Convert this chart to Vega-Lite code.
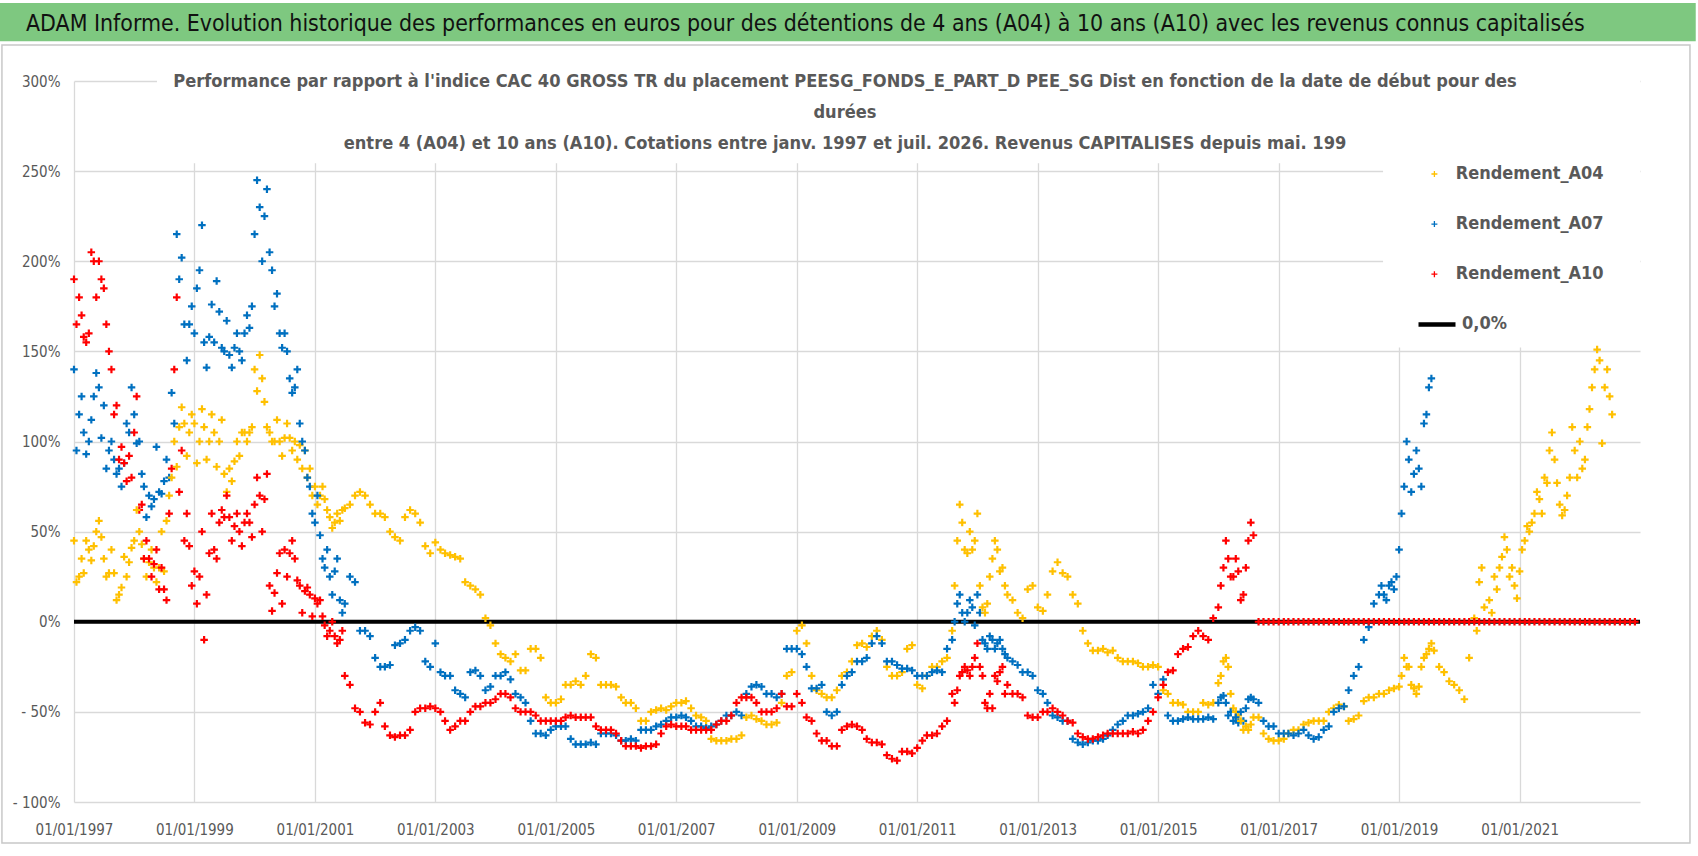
{
"$schema":"https://vega.github.io/schema/vega-lite/v6.json",
"width":1566,"height":721,
"autosize":{"type":"none"},
"padding":{"left":74,"top":81,"right":58,"bottom":54},
"background":"white",
"config":{"view":{"stroke":null},"font":"DejaVu Sans Condensed, Roboto, sans-serif"},
"title":{"text":["Performance par rapport à l'indice CAC 40 GROSS TR  du placement PEESG_FONDS_E_PART_D PEE_SG Dist en fonction de la date de début pour des","durées","entre 4 (A04) et 10 ans (A10).  Cotations entre janv. 1997 et juil. 2026. Revenus  CAPITALISES  depuis mai. 199"],"anchor":"middle","frame":"group","orient":"top","offset":-150,"dx":-12,"font":"DejaVu Sans Condensed, Roboto, sans-serif","fontSize":18.1,"fontWeight":"bold","color":"#595959","lineHeight":31},
"data":{"values":[
{"d":"1997-01","a":45,"b":140,"c":190},{"d":"1997-02","a":25,"b":115,"c":180},{"d":"1997-03","a":27,"b":105,"c":158},{"d":"1997-04","a":40,"b":100,"c":160},{"d":"1997-05","a":42,"b":125,"c":200},{"d":"1997-06","a":56,"b":130,"c":200},{"d":"1997-07","a":35,"b":120,"c":185},{"d":"1997-08","a":27,"b":95,"c":150},{"d":"1997-09","a":27,"b":90,"c":115},{"d":"1997-10","a":15,"b":85,"c":90},{"d":"1997-11","a":36,"b":88,"c":88},{"d":"1997-12","a":33,"b":105,"c":92},
{"d":"1998-01","a":45,"b":115,"c":105},{"d":"1998-02","a":50,"b":100,"c":62},{"d":"1998-03","a":35,"b":75,"c":35},{"d":"1998-04","a":33,"b":70,"c":35},{"d":"1998-05","a":30,"b":68,"c":32},{"d":"1998-06","a":30,"b":72,"c":18},{"d":"1998-07","a":28,"b":78,"c":18},{"d":"1998-08","a":70,"b":80,"c":60},{"d":"1998-09","a":100,"b":110,"c":140},{"d":"1998-10","a":108,"b":190,"c":72},{"d":"1998-11","a":110,"b":165,"c":45},{"d":"1998-12","a":105,"b":165,"c":42},
{"d":"1999-01","a":110,"b":160,"c":28},{"d":"1999-02","a":100,"b":195,"c":25},{"d":"1999-03","a":108,"b":155,"c":-10},{"d":"1999-04","a":100,"b":158,"c":38},{"d":"1999-05","a":105,"b":155,"c":40},{"d":"1999-06","a":100,"b":172,"c":55},{"d":"1999-07","a":82,"b":150,"c":58},{"d":"1999-08","a":85,"b":148,"c":58},{"d":"1999-09","a":89,"b":152,"c":53},{"d":"1999-10","a":92,"b":150,"c":50},{"d":"1999-11","a":105,"b":160,"c":55},{"d":"1999-12","a":105,"b":163,"c":55},
{"d":"2000-01","a":140,"b":215,"c":65},{"d":"2000-02","a":148,"b":230,"c":70},{"d":"2000-03","a":122,"b":225,"c":68},{"d":"2000-04","a":105,"b":205,"c":20},{"d":"2000-05","a":100,"b":175,"c":16},{"d":"2000-06","a":100,"b":160,"c":38},{"d":"2000-07","a":102,"b":160,"c":40},{"d":"2000-08","a":102,"b":135,"c":38},{"d":"2000-09","a":100,"b":130,"c":35},{"d":"2000-10","a":98,"b":110,"c":20},{"d":"2000-11","a":95,"b":95,"c":17},{"d":"2000-12","a":85,"b":75,"c":15},
{"d":"2001-01","a":75,"b":55,"c":13},{"d":"2001-02","a":70,"b":48,"c":12},{"d":"2001-03","a":68,"b":30,"c":-2},{"d":"2001-04","a":58,"b":25,"c":-5},{"d":"2001-05","a":55,"b":28,"c":-8},{"d":"2001-06","a":56,"b":12,"c":-10},{"d":"2001-07","a":63,"b":10,"c":-30},{"d":"2001-08","a":65,"b":25,"c":-35},{"d":"2001-09","a":70,"b":22,"c":-48},{"d":"2001-10","a":72,"b":-5,"c":-50},{"d":"2001-11","a":70,"b":-5,"c":-56},{"d":"2001-12","a":65,"b":-8,"c":-57},
{"d":"2002-01","a":60,"b":-20,"c":-50},{"d":"2002-02","a":60,"b":-25,"c":-45},{"d":"2002-03","a":58,"b":-25,"c":-58},{"d":"2002-04","a":50,"b":-24,"c":-63},{"d":"2002-05","a":47,"b":-13,"c":-64},{"d":"2002-06","a":45,"b":-12,"c":-63},{"d":"2002-07","a":58,"b":-10,"c":-63},{"d":"2002-08","a":62,"b":-5,"c":-60},{"d":"2002-09","a":60,"b":-3,"c":-50},{"d":"2002-10","a":55,"b":-5,"c":-48},{"d":"2002-11","a":42,"b":-22,"c":-48},{"d":"2002-12","a":38,"b":-25,"c":-47},
{"d":"2003-01","a":44,"b":-12,"c":-48},{"d":"2003-02","a":40,"b":-28,"c":-50},{"d":"2003-03","a":38,"b":-30,"c":-55},{"d":"2003-04","a":37,"b":-30,"c":-60},{"d":"2003-05","a":36,"b":-38,"c":-58},{"d":"2003-06","a":35,"b":-40,"c":-55},{"d":"2003-07","a":22,"b":-42,"c":-55},{"d":"2003-08","a":20,"b":-28,"c":-50},{"d":"2003-09","a":18,"b":-27,"c":-47},{"d":"2003-10","a":15,"b":-30,"c":-47},{"d":"2003-11","a":2,"b":-38,"c":-45},{"d":"2003-12","a":-2,"b":-36,"c":-45},
{"d":"2004-01","a":-12,"b":-30,"c":-43},{"d":"2004-02","a":-18,"b":-30,"c":-40},{"d":"2004-03","a":-20,"b":-28,"c":-40},{"d":"2004-04","a":-22,"b":-32,"c":-42},{"d":"2004-05","a":-18,"b":-40,"c":-48},{"d":"2004-06","a":-27,"b":-42,"c":-50},{"d":"2004-07","a":-27,"b":-45,"c":-50},{"d":"2004-08","a":-15,"b":-55,"c":-50},{"d":"2004-09","a":-15,"b":-62,"c":-52},{"d":"2004-10","a":-20,"b":-62,"c":-55},{"d":"2004-11","a":-42,"b":-63,"c":-55},{"d":"2004-12","a":-45,"b":-60,"c":-55},
{"d":"2005-01","a":-45,"b":-58,"c":-55},{"d":"2005-02","a":-43,"b":-58,"c":-55},{"d":"2005-03","a":-35,"b":-58,"c":-53},{"d":"2005-04","a":-35,"b":-65,"c":-52},{"d":"2005-05","a":-33,"b":-68,"c":-53},{"d":"2005-06","a":-35,"b":-68,"c":-53},{"d":"2005-07","a":-30,"b":-68,"c":-53},{"d":"2005-08","a":-18,"b":-67,"c":-53},{"d":"2005-09","a":-20,"b":-68,"c":-58},{"d":"2005-10","a":-35,"b":-62,"c":-60},{"d":"2005-11","a":-35,"b":-62,"c":-60},{"d":"2005-12","a":-35,"b":-62,"c":-60},
{"d":"2006-01","a":-36,"b":-63,"c":-62},{"d":"2006-02","a":-42,"b":-66,"c":-66},{"d":"2006-03","a":-45,"b":-66,"c":-69},{"d":"2006-04","a":-45,"b":-65,"c":-69},{"d":"2006-05","a":-48,"b":-66,"c":-69},{"d":"2006-06","a":-55,"b":-60,"c":-70},{"d":"2006-07","a":-55,"b":-60,"c":-69},{"d":"2006-08","a":-50,"b":-60,"c":-69},{"d":"2006-09","a":-49,"b":-58,"c":-68},{"d":"2006-10","a":-48,"b":-57,"c":-62},{"d":"2006-11","a":-49,"b":-55,"c":-58},{"d":"2006-12","a":-47,"b":-53,"c":-57},
{"d":"2007-01","a":-45,"b":-53,"c":-58},{"d":"2007-02","a":-45,"b":-52,"c":-58},{"d":"2007-03","a":-44,"b":-53,"c":-58},{"d":"2007-04","a":-48,"b":-55,"c":-60},{"d":"2007-05","a":-52,"b":-58,"c":-60},{"d":"2007-06","a":-53,"b":-58,"c":-60},{"d":"2007-07","a":-55,"b":-59,"c":-60},{"d":"2007-08","a":-65,"b":-58,"c":-60},{"d":"2007-09","a":-66,"b":-57,"c":-57},{"d":"2007-10","a":-66,"b":-55,"c":-55},{"d":"2007-11","a":-66,"b":-52,"c":-55},{"d":"2007-12","a":-65,"b":-52,"c":-52},
{"d":"2008-01","a":-65,"b":-50,"c":-45},{"d":"2008-02","a":-63,"b":-52,"c":-42},{"d":"2008-03","a":-53,"b":-40,"c":-42},{"d":"2008-04","a":-52,"b":-36,"c":-42},{"d":"2008-05","a":-54,"b":-35,"c":-45},{"d":"2008-06","a":-55,"b":-36,"c":-50},{"d":"2008-07","a":-57,"b":-40,"c":-50},{"d":"2008-08","a":-57,"b":-40,"c":-50},{"d":"2008-09","a":-56,"b":-42,"c":-48},{"d":"2008-10","a":-45,"b":-40,"c":-40},{"d":"2008-11","a":-30,"b":-15,"c":-47},{"d":"2008-12","a":-28,"b":-15,"c":-47},
{"d":"2009-01","a":-5,"b":-15,"c":-40},{"d":"2009-02","a":-2,"b":-18,"c":-45},{"d":"2009-03","a":-12,"b":-25,"c":-53},{"d":"2009-04","a":-30,"b":-37,"c":-55},{"d":"2009-05","a":-38,"b":-37,"c":-62},{"d":"2009-06","a":-40,"b":-35,"c":-66},{"d":"2009-07","a":-42,"b":-50,"c":-66},{"d":"2009-08","a":-42,"b":-52,"c":-69},{"d":"2009-09","a":-38,"b":-50,"c":-69},{"d":"2009-10","a":-30,"b":-35,"c":-60},{"d":"2009-11","a":-28,"b":-30,"c":-58},{"d":"2009-12","a":-22,"b":-28,"c":-57},
{"d":"2010-01","a":-13,"b":-22,"c":-58},{"d":"2010-02","a":-12,"b":-22,"c":-60},{"d":"2010-03","a":-14,"b":-20,"c":-65},{"d":"2010-04","a":-8,"b":-12,"c":-67},{"d":"2010-05","a":-5,"b":-8,"c":-67},{"d":"2010-06","a":-10,"b":-12,"c":-68},{"d":"2010-07","a":-25,"b":-22,"c":-74},{"d":"2010-08","a":-30,"b":-22,"c":-76},{"d":"2010-09","a":-30,"b":-24,"c":-77},{"d":"2010-10","a":-28,"b":-26,"c":-72},{"d":"2010-11","a":-15,"b":-26,"c":-72},{"d":"2010-12","a":-13,"b":-27,"c":-73},
{"d":"2011-01","a":-35,"b":-30,"c":-70},{"d":"2011-02","a":-37,"b":-30,"c":-66},{"d":"2011-03","a":-30,"b":-30,"c":-63},{"d":"2011-04","a":-25,"b":-28,"c":-63},{"d":"2011-05","a":-25,"b":-27,"c":-62},{"d":"2011-06","a":-22,"b":-28,"c":-58},{"d":"2011-07","a":-20,"b":-15,"c":-55},{"d":"2011-08","a":-5,"b":-10,"c":-40},{"d":"2011-09","a":45,"b":10,"c":-38},{"d":"2011-10","a":55,"b":5,"c":-28},{"d":"2011-11","a":38,"b":5,"c":-27},{"d":"2011-12","a":40,"b":8,"c":-25},
{"d":"2012-01","a":60,"b":15,"c":-12},{"d":"2012-02","a":8,"b":-10,"c":-30},{"d":"2012-03","a":10,"b":-15,"c":-48},{"d":"2012-04","a":35,"b":-10,"c":-48},{"d":"2012-05","a":40,"b":-12,"c":-33},{"d":"2012-06","a":30,"b":-15,"c":-25},{"d":"2012-07","a":15,"b":-20,"c":-35},{"d":"2012-08","a":12,"b":-22,"c":-40},{"d":"2012-09","a":5,"b":-24,"c":-40},{"d":"2012-10","a":2,"b":-28,"c":-42},{"d":"2012-11","a":18,"b":-28,"c":-52},{"d":"2012-12","a":20,"b":-30,"c":-53},
{"d":"2013-01","a":8,"b":-38,"c":-53},{"d":"2013-02","a":6,"b":-40,"c":-50},{"d":"2013-03","a":15,"b":-45,"c":-50},{"d":"2013-04","a":28,"b":-52,"c":-48},{"d":"2013-05","a":33,"b":-53,"c":-50},{"d":"2013-06","a":27,"b":-55,"c":-52},{"d":"2013-07","a":25,"b":-55,"c":-55},{"d":"2013-08","a":15,"b":-65,"c":-56},{"d":"2013-09","a":10,"b":-67,"c":-62},{"d":"2013-10","a":-5,"b":-68,"c":-64},{"d":"2013-11","a":-12,"b":-67,"c":-65},{"d":"2013-12","a":-16,"b":-66,"c":-65},
{"d":"2014-01","a":-16,"b":-66,"c":-64},{"d":"2014-02","a":-15,"b":-65,"c":-63},{"d":"2014-03","a":-17,"b":-63,"c":-62},{"d":"2014-04","a":-16,"b":-60,"c":-62},{"d":"2014-05","a":-20,"b":-57,"c":-62},{"d":"2014-06","a":-22,"b":-55,"c":-62},{"d":"2014-07","a":-22,"b":-52,"c":-62},{"d":"2014-08","a":-22,"b":-52,"c":-61},{"d":"2014-09","a":-23,"b":-51,"c":-62},{"d":"2014-10","a":-25,"b":-50,"c":-60},{"d":"2014-11","a":-25,"b":-48,"c":-55},{"d":"2014-12","a":-24,"b":-35,"c":-50},
{"d":"2015-01","a":-25,"b":-40,"c":-42},{"d":"2015-02","a":-38,"b":-32,"c":-35},{"d":"2015-03","a":-40,"b":-52,"c":-28},{"d":"2015-04","a":-45,"b":-55,"c":-27},{"d":"2015-05","a":-45,"b":-55,"c":-18},{"d":"2015-06","a":-46,"b":-54,"c":-15},{"d":"2015-07","a":-50,"b":-53,"c":-14},{"d":"2015-08","a":-50,"b":-54,"c":-8},{"d":"2015-09","a":-50,"b":-54,"c":-5},{"d":"2015-10","a":-45,"b":-54,"c":-8},{"d":"2015-11","a":-46,"b":-53,"c":-10},{"d":"2015-12","a":-45,"b":-54,"c":2},
{"d":"2016-01","a":-34,"b":-45,"c":8},{"d":"2016-02","a":-22,"b":-41,"c":30},{"d":"2016-03","a":-25,"b":-52,"c":35},{"d":"2016-04","a":-48,"b":-55,"c":25},{"d":"2016-05","a":-52,"b":-56,"c":28},{"d":"2016-06","a":-60,"b":-55,"c":15},{"d":"2016-07","a":-60,"b":-43,"c":45},{"d":"2016-08","a":-53,"b":-43,"c":48},{"d":"2016-09","a":-53,"b":-45,"c":0},{"d":"2016-10","a":-62,"b":-55,"c":0},{"d":"2016-11","a":-65,"b":-58,"c":0},{"d":"2016-12","a":-66,"b":-58,"c":0},
{"d":"2017-01","a":-66,"b":-62,"c":0},{"d":"2017-02","a":-65,"b":-62,"c":0},{"d":"2017-03","a":-62,"b":-62,"c":0},{"d":"2017-04","a":-60,"b":-63,"c":0},{"d":"2017-05","a":-60,"b":-62,"c":0},{"d":"2017-06","a":-57,"b":-60,"c":0},{"d":"2017-07","a":-56,"b":-63,"c":0},{"d":"2017-08","a":-55,"b":-65,"c":0},{"d":"2017-09","a":-55,"b":-64,"c":0},{"d":"2017-10","a":-55,"b":-60,"c":0},{"d":"2017-11","a":-50,"b":-58,"c":0},{"d":"2017-12","a":-48,"b":-50,"c":0},
{"d":"2018-01","a":-46,"b":-48,"c":0},{"d":"2018-02","a":-47,"b":-47,"c":0},{"d":"2018-03","a":-55,"b":-38,"c":0},{"d":"2018-04","a":-54,"b":-30,"c":0},{"d":"2018-05","a":-52,"b":-25,"c":0},{"d":"2018-06","a":-44,"b":-10,"c":0},{"d":"2018-07","a":-42,"b":-3,"c":0},{"d":"2018-08","a":-42,"b":10,"c":0},{"d":"2018-09","a":-40,"b":15,"c":0},{"d":"2018-10","a":-40,"b":15,"c":0},{"d":"2018-11","a":-38,"b":20,"c":0},{"d":"2018-12","a":-37,"b":18,"c":0},
{"d":"2019-01","a":-36,"b":40,"c":0},{"d":"2019-02","a":-20,"b":75,"c":0},{"d":"2019-03","a":-25,"b":90,"c":0},{"d":"2019-04","a":-37,"b":82,"c":0},{"d":"2019-05","a":-36,"b":85,"c":0},{"d":"2019-06","a":-20,"b":110,"c":0},{"d":"2019-07","a":-15,"b":130,"c":0},{"d":"2019-08","a":-16,"c":0},{"d":"2019-09","a":-25,"c":0},{"d":"2019-10","a":-28,"c":0},{"d":"2019-11","a":-33,"c":0},{"d":"2019-12","a":-35,"c":0},
{"d":"2020-01","a":-38,"c":0},{"d":"2020-02","a":-43,"c":0},{"d":"2020-03","a":-20,"c":0},{"d":"2020-04","a":2,"c":0},{"d":"2020-05","a":22,"c":0},{"d":"2020-06","a":8,"c":0},{"d":"2020-07","a":12,"c":0},{"d":"2020-08","a":25,"c":0},{"d":"2020-09","a":30,"c":0},{"d":"2020-10","a":47,"c":0},{"d":"2020-11","a":25,"c":0},{"d":"2020-12","a":20,"c":0},
{"d":"2021-01","a":28,"c":0},{"d":"2021-02","a":45,"c":0},{"d":"2021-03","a":50,"c":0},{"d":"2021-04","a":60,"c":0},{"d":"2021-05","a":68,"c":0},{"d":"2021-06","a":80,"c":0},{"d":"2021-07","a":95,"c":0},{"d":"2021-08","a":90,"c":0},{"d":"2021-09","a":65,"c":0},{"d":"2021-10","a":62,"c":0},{"d":"2021-11","a":80,"c":0},{"d":"2021-12","a":95,"c":0},
{"d":"2022-01","a":100,"c":0},{"d":"2022-02","a":90,"c":0},{"d":"2022-03","a":118,"c":0},{"d":"2022-04","a":140,"c":0},{"d":"2022-05","a":145,"c":0},{"d":"2022-06","a":130,"c":0},{"d":"2022-07","a":125,"c":0},{"d":"2022-08","c":0},{"d":"2022-09","c":0},{"d":"2022-10","c":0},{"d":"2022-11","c":0},{"d":"2022-12","c":0},
{"d":"1997-01-16","a":22,"b":95,"c":165},{"d":"1997-02-16","a":35,"b":125,"c":170},{"d":"1997-03-16","a":45,"b":93,"c":155},{"d":"1997-04-16","a":34,"b":112,"c":205},{"d":"1997-05-16","a":50,"b":138,"c":180},{"d":"1997-06-16","a":47,"b":102,"c":190},{"d":"1997-07-16","a":25,"b":85,"c":165},{"d":"1997-08-16","a":40,"b":100,"c":140},{"d":"1997-09-16","a":12,"b":82,"c":120},{"d":"1997-10-16","a":19,"b":75,"c":97},{"d":"1997-11-16","a":25,"b":110,"c":78},{"d":"1997-12-16","a":41,"b":130,"c":80},
{"d":"1998-01-16","a":62,"b":99,"c":125},{"d":"1998-02-16","a":43,"b":82,"c":65},{"d":"1998-03-16","a":25,"b":58,"c":45},{"d":"1998-04-16","a":40,"b":64,"c":25},{"d":"1998-05-16","a":22,"b":97,"c":40},{"d":"1998-06-16","a":50,"b":71,"c":30},{"d":"1998-07-16","a":56,"b":90,"c":12},{"d":"1998-08-16","a":80,"b":127,"c":85},{"d":"1998-09-16","a":86,"b":215,"c":180},{"d":"1998-10-16","a":119,"b":202,"c":95},{"d":"1998-11-16","a":92,"b":145,"c":60},{"d":"1998-12-16","a":115,"b":175,"c":20},
{"d":"1999-01-16","a":88,"b":185,"c":10},{"d":"1999-02-16","a":118,"b":220,"c":50},{"d":"1999-03-16","a":90,"b":141,"c":15},{"d":"1999-04-16","a":115,"b":176,"c":60},{"d":"1999-05-16","a":86,"b":189,"c":35},{"d":"1999-06-16","a":112,"b":152,"c":62},{"d":"1999-07-16","a":72,"b":167,"c":70},{"d":"1999-08-16","a":78,"b":141,"c":45},{"d":"1999-09-16","a":100,"b":160,"c":60},{"d":"1999-10-16","a":105,"b":145,"c":42},{"d":"1999-11-16","a":100,"b":170,"c":60},{"d":"1999-12-16","a":108,"b":175,"c":47},
{"d":"2000-01-16","a":128,"b":245,"c":80},{"d":"2000-02-16","a":135,"b":200,"c":50},{"d":"2000-03-16","a":108,"b":240,"c":82},{"d":"2000-04-16","a":100,"b":195,"c":6},{"d":"2000-05-16","a":112,"b":182,"c":27},{"d":"2000-06-16","a":92,"b":152,"c":10},{"d":"2000-07-16","a":110,"b":150,"c":25},{"d":"2000-08-16","a":95,"b":127,"c":45},{"d":"2000-09-16","a":90,"b":140,"c":23},{"d":"2000-10-16","a":85,"b":100,"c":5},{"d":"2000-11-16","a":80,"b":80,"c":19},{"d":"2000-12-16","a":70,"b":60,"c":3},
{"d":"2001-01-16","a":65,"b":70,"c":10},{"d":"2001-02-16","a":75,"b":35,"c":3},{"d":"2001-03-16","a":62,"b":40,"c":-8},{"d":"2001-04-16","a":52,"b":15,"c":0},{"d":"2001-05-16","a":60,"b":35,"c":-12},{"d":"2001-06-16","a":62,"b":5,"c":-5},
{"d":"2011-08-16","a":20,"b":0,"c":-45},{"d":"2011-09-16","a":65,"b":15,"c":-30},{"d":"2011-10-16","a":40,"b":0,"c":-25},{"d":"2011-11-16","a":50,"b":12,"c":-30},{"d":"2011-12-16","a":45,"b":-2,"c":-20},{"d":"2012-01-16","a":20,"b":5,"c":-25},{"d":"2012-02-16","a":5,"b":-12,"c":-45},{"d":"2012-03-16","a":25,"b":-8,"c":-40},{"d":"2012-04-16","a":45,"b":-15,"c":-30},{"d":"2012-05-16","a":28,"b":-10,"c":-28},{"d":"2012-06-16","a":20,"b":-18,"c":-40},
{"d":"2016-01-16","a":-30,"b":-42,"c":20},{"d":"2016-02-16","a":-20,"b":-45,"c":45},{"d":"2016-03-16","a":-40,"b":-50,"c":25},{"d":"2016-04-16","a":-50,"b":-53,"c":35},{"d":"2016-05-16","a":-55,"b":-50,"c":12},{"d":"2016-06-16","a":-58,"b":-48,"c":30},{"d":"2016-07-16","a":-57,"b":-42,"c":55},
{"d":"2018-09-16","b":20},{"d":"2018-10-16","b":12},{"d":"2018-11-16","b":22},{"d":"2018-12-16","b":25},
{"d":"2019-01-16","a":-30,"b":60},{"d":"2019-02-16","a":-25,"b":100},{"d":"2019-03-16","a":-35,"b":72},{"d":"2019-04-16","a":-40,"b":95},{"d":"2019-05-16","a":-25,"b":75},{"d":"2019-06-16","a":-18,"b":115},{"d":"2019-07-16","a":-12,"b":135},
{"d":"2020-04-16","a":-5},{"d":"2020-05-16","a":30},{"d":"2020-07-16","a":5},{"d":"2020-08-16","a":18},{"d":"2020-09-16","a":36},{"d":"2020-10-16","a":40},{"d":"2020-11-16","a":30},{"d":"2020-12-16","a":13},
{"d":"2021-01-16","a":40},{"d":"2021-02-16","a":53},{"d":"2021-03-16","a":55},{"d":"2021-04-16","a":72},{"d":"2021-05-16","a":60},{"d":"2021-06-16","a":77},{"d":"2021-07-16","a":105},{"d":"2021-08-16","a":77},{"d":"2021-09-16","a":59},{"d":"2021-10-16","a":70},{"d":"2021-11-16","a":108},{"d":"2021-12-16","a":80},
{"d":"2022-01-16","a":85},{"d":"2022-02-16","a":108},{"d":"2022-03-16","a":130},{"d":"2022-04-16","a":151},{"d":"2022-05-16","a":99},{"d":"2022-06-16","a":140},{"d":"2022-07-16","a":115}
]},
"layer":[
{"data":{"values":[{}]},"mark":{"type":"rect","color":"#7EC880"},"encoding":{"x":{"datum":{"year":1995,"month":10,"date":9,"utc":true},"type":"temporal"},"x2":{"datum":{"year":2023,"month":12,"date":5,"utc":true}},"y":{"datum":343.3},"y2":{"datum":322}}},
{"data":{"values":[{}]},"mark":{"type":"text","align":"left","baseline":"middle","font":"DejaVu Sans Condensed, Roboto, sans-serif","fontSize":22.9,"color":"#111111"},"encoding":{"x":{"datum":{"year":1996,"month":3,"date":16,"utc":true},"type":"temporal"},"y":{"datum":331.7},"text":{"value":"ADAM Informe. Evolution historique des performances en euros pour des détentions de 4 ans (A04) à 10 ans (A10) avec les revenus connus capitalisés"}}},
{"data":{"values":[{}]},"mark":{"type":"rect","filled":false,"stroke":"#c8c8c8","strokeWidth":1.5},"encoding":{"x":{"datum":{"year":1995,"month":10,"date":22,"utc":true},"type":"temporal"},"x2":{"datum":{"year":2023,"month":10,"date":31,"utc":true}},"y":{"datum":320},"y2":{"datum":-122.8}}},
{"data":{"values":[{}]},"mark":{"type":"rect","color":"white"},"encoding":{"x":{"datum":{"year":1998,"month":5,"date":19,"utc":true},"type":"temporal"},"x2":{"datum":{"year":2021,"month":2,"date":3,"utc":true}},"y":{"datum":301},"y2":{"datum":254.4}}},
{"data":{"values":[{}]},"mark":{"type":"rect","color":"white"},"encoding":{"x":{"datum":{"year":2018,"month":9,"date":26,"utc":true},"type":"temporal"},"x2":{"datum":{"year":2023,"month":1,"date":1,"utc":true}},"y":{"datum":301},"y2":{"datum":152.2}}},
{"data":{"values":[{}]},"mark":{"type":"rule","strokeWidth":4,"color":"#000000"},"encoding":{"x":{"datum":{"year":1997,"month":1,"date":1,"utc":true},"type":"temporal"},"x2":{"datum":{"year":2023,"month":1,"date":1,"utc":true}},"y":{"datum":0},
"strokeDash":{"datum":"0,0%","scale":{"range":[[1,0]]},"legend":{"title":null,"orient":"none","legendX":1342,"legendY":222.4,"padding":0,"symbolType":"stroke","symbolSize":1369,"symbolStrokeColor":"#000000","symbolStrokeWidth":4.5,"labelFont":"DejaVu Sans Condensed, Roboto, sans-serif","labelFontSize":18,"labelFontWeight":"bold","labelColor":"#595959","labelOffset":4,"labelLimit":0}}}},
{"transform":[{"fold":["a","b","c"],"as":["k","v"]},{"filter":"isValid(datum.v)"}],
"mark":{"type":"point","shape":"M-1,0H1M0,-1V1","filled":false,"size":56,"strokeWidth":2.2,"opacity":1},
"encoding":{
"x":{"field":"d","type":"temporal","scale":{"type":"utc","domain":[{"year":1997,"month":1,"date":1,"utc":true},{"year":2023,"month":1,"date":1,"utc":true}],"nice":false},
"axis":{"title":null,"values":[{"year":1997,"month":1,"date":1,"utc":true},{"year":1999,"month":1,"date":1,"utc":true},{"year":2001,"month":1,"date":1,"utc":true},{"year":2003,"month":1,"date":1,"utc":true},{"year":2005,"month":1,"date":1,"utc":true},{"year":2007,"month":1,"date":1,"utc":true},{"year":2009,"month":1,"date":1,"utc":true},{"year":2011,"month":1,"date":1,"utc":true},{"year":2013,"month":1,"date":1,"utc":true},{"year":2015,"month":1,"date":1,"utc":true},{"year":2017,"month":1,"date":1,"utc":true},{"year":2019,"month":1,"date":1,"utc":true},{"year":2021,"month":1,"date":1,"utc":true}],"labelExpr":"utcFormat(datum.value, '%d/%m/%Y')","grid":true,"gridColor":"#d9d9d9","gridWidth":1.3,"domain":false,"ticks":false,"labelFont":"DejaVu Sans Condensed, Roboto, sans-serif","labelFontSize":15,"labelColor":"#595959","labelPadding":20,"labelFlush":false,"labelOverlap":false}},
"y":{"field":"v","type":"quantitative","scale":{"domain":[-100,300],"nice":false,"zero":false},
"axis":{"title":null,"values":[-100,-50,0,50,100,150,200,250,300],"labelExpr":"datum.value < 0 ? '- ' + abs(datum.value) + '%' : datum.value + '%'","grid":true,"gridColor":"#d9d9d9","gridWidth":1.3,"domain":false,"ticks":false,"labelFont":"DejaVu Sans Condensed, Roboto, sans-serif","labelFontSize":15,"labelColor":"#595959","labelPadding":14}},
"color":{"field":"k","type":"nominal","scale":{"domain":["a","b","c"],"range":["#FFC000","#0070C0","#FF0000"]},
"legend":{"title":null,"orient":"none","legendX":1351.4,"legendY":84,"padding":0,"labelExpr":"datum.label == 'a' ? 'Rendement_A04' : datum.label == 'b' ? 'Rendement_A07' : 'Rendement_A10'","labelFont":"DejaVu Sans Condensed, Roboto, sans-serif","labelFontSize":18,"labelFontWeight":"bold","labelColor":"#595959","labelLimit":0,"labelOffset":12.3,"symbolType":"M-1,0H1M0,-1V1","symbolSize":36,"rowPadding":32.1,"symbolStrokeWidth":1.3,"symbolFillColor":"transparent"}}}}
]
}
